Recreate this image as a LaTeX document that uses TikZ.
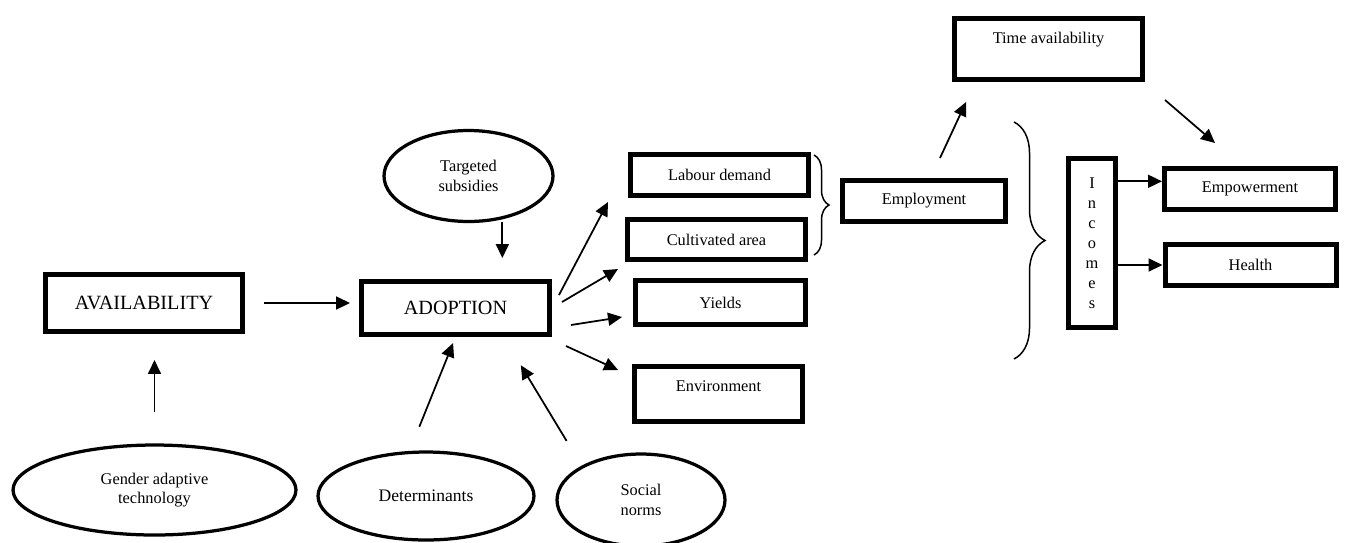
\documentclass[tikz,border=0pt]{standalone}
\usepackage{fontspec}
\setmainfont{Liberation Serif}
\usetikzlibrary{shapes.geometric,arrows.meta,decorations.pathreplacing}
\begin{document}
\begin{tikzpicture}[x=0.02cm, y=-0.02cm,
  box/.style = {draw, line width=0.1cm, inner sep=0pt, font=\fontsize{9.3}{11}\selectfont},
  big/.style = {box, font=\fontsize{11.5}{13}\selectfont},
  oval/.style = {draw, ellipse, line width=0.065cm, inner sep=0pt, align=center, font=\fontsize{9.3}{11}\selectfont},
  arr/.style = {line width=0.035cm, -{Triangle[length=0.28cm, width=0.26cm]}},
  brc/.style = {decorate, decoration={brace, amplitude=#1}, line width=0.03cm}]
\useasboundingbox (0,0) rectangle (1354,542);

\node[big, minimum width=3.96cm, minimum height=1.14cm] (avail) at (144,303) {AVAILABILITY};
\node[big, minimum width=3.76cm, minimum height=1.06cm] (adopt) at (455.5,308) {ADOPTION};
\node[box, minimum width=3.56cm, minimum height=0.82cm] (labour) at (719.5,175) {Labour demand};
\node[box, minimum width=3.56cm, minimum height=0.8cm] (cultiv) at (716.5,239.5) {Cultivated area};
\node[box, minimum width=3.4cm, minimum height=0.88cm] (yields) at (720.5,302.5) {Yields};
\node[box, minimum width=3.36cm, text height=0.49cm, text depth=0.61cm] (env) at (718.5,394) {Environment};
\node[box, minimum width=3.26cm, minimum height=0.82cm] (employ) at (924,201) {Employment};
\node[box, minimum width=3.76cm, text height=0.49cm, text depth=0.73cm] (time) at (1048.5,49) {Time availability};
\node[box, minimum width=0.94cm, minimum height=3.38cm, align=center, font=\fontsize{9.3}{11.4}\selectfont] (incomes) at (1092,243) {I\\n\\c\\o\\m\\e\\s};
\node[box, minimum width=3.42cm, minimum height=0.82cm] (empow) at (1250,189) {Empowerment};
\node[box, minimum width=3.42cm, minimum height=0.82cm] (health) at (1250.5,265) {Health};

\node[oval, minimum width=3.38cm, minimum height=1.82cm] (subsid) at (468.5,176) {Targeted\\subsidies};
\node[oval, minimum width=5.66cm, minimum height=1.8cm] (gender) at (154.5,490) {Gender adaptive\\technology};
\node[oval, minimum width=4.32cm, minimum height=1.76cm, font=\fontsize{10}{12}\selectfont] (determ) at (426,496) {Determinants};
\node[oval, minimum width=3.36cm, minimum height=1.84cm] (social) at (641,500) {Social\\norms};

\draw[arr, shorten <=0.37cm, shorten >=0.18cm] (avail.east) -- (avail.east -| adopt.west);
\draw[arr, shorten <=0.63cm, shorten >=0.52cm] (gender.north) -- (gender.north |- avail.south);
\draw[arr, shorten <=0.06cm, shorten >=0.42cm] (subsid.-52) -- (subsid.-52 |- adopt.north);
\draw[arr, shorten <=0.52cm, shorten >=0.13cm] (determ.110) -- (adopt.south);
\draw[arr, shorten <=0.58cm, shorten >=0.66cm] (social.150) -- (adopt.-31);

\draw[arr] ([shift={(7,-13)}]adopt.east) -- ([shift={(-20,4)}]labour.south west);
\draw[arr] ([shift={(10,-6)}]adopt.east) -- ([shift={(-7,7)}]cultiv.south west);
\draw[arr] ([shift={(19,17)}]adopt.east) -- ([shift={(-11,14.5)}]yields.west);
\draw[arr] ([shift={(14,38)}]adopt.east) -- ([shift={(-14,6)}]env.north west);

\draw[arr] ([shift={(16,-20)}]employ.north) -- ([shift={(14,20)}]time.south west);
\draw[arr] ([shift={(20,18)}]time.south east) -- ([shift={(-35,-23)}]empow.north);
\draw[arr] (incomes.east |- empow.175) -- (empow.175);
\draw[arr] (incomes.east |- health.west) -- (health.west);

\draw[brc=0.3cm] (814,155) -- (814,255);
\draw[brc=0.62cm] (1014,122) -- (1014,359);
\end{tikzpicture}
\end{document}
